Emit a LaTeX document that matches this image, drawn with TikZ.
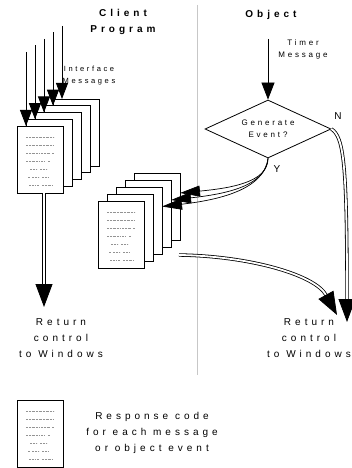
\documentclass[tikz,border=0pt]{standalone}
\usepackage{fontspec}
\setmainfont{Liberation Sans}
\newfontfamily\lsfont[LetterSpace=40]{Liberation Sans}
\newfontfamily\lsfontsm[LetterSpace=35]{Liberation Sans}
\usetikzlibrary{arrows.meta,shapes.geometric}

\tikzset{
  x=1pt, y=-1pt,
  dots/.style={gray!85, line width=0.5pt, dash pattern=on 0.7pt off 0.7pt},
  sheet/.style={draw, fill=white, line width=0.9pt, minimum width=46pt,
    minimum height=67pt, inner sep=0pt, outer sep=0pt},
  decision/.style={diamond, draw, line width=0.8pt, minimum width=126pt,
    minimum height=58pt, inner sep=0pt, shape aspect=2.2, align=center,
    font=\lsfontsm\fontsize{8}{12}\selectfont},
  titletext/.style={font=\lsfont\bfseries\fontsize{10}{16}\selectfont, align=center, inner sep=0pt},
  bigtext/.style={font=\lsfont\fontsize{10}{16}\selectfont, align=center, inner sep=0pt},
  smalltext/.style={font=\lsfontsm\fontsize{8}{12}\selectfont, align=center, inner sep=0pt},
  tinytext/.style={font=\lsfontsm\fontsize{7.5}{12}\selectfont, align=center, inner sep=0pt},
  branchtext/.style={font=\fontsize{10}{12}\selectfont, inner sep=0pt},
  inarrow/.style={line width=0.8pt, -{Triangle[length=16pt,width=12pt]}},
  timerarrow/.style={line width=0.8pt, -{Triangle[length=17pt,width=13pt]}},
  yarrow/.style={line width=0.7pt, -{Triangle[length=20pt,width=11pt]}},
  dblarrow/.style={draw, double, line width=0.8pt, double distance=1.8pt,
    -{Triangle[length=23pt,width=17pt]}},
  sepline/.style={draw=black!22, line width=1pt},
}

% dotted "code" lines on the face of a sheet node
\newcommand\sheetlines[1]{%
  \begin{scope}[shift={(#1.north west)}, dots]
    \draw (9,11) -- (37,11);
    \draw (9,19) -- (36,19);
    \draw (9,27) -- (22,27) (24,27) -- (33,27) (35,27) -- (37,27);
    \draw (9,35) -- (22,35) (24,35) -- (28,35) (31,35) -- (33,35);
    \draw (13,43) -- (20,43) (23,43) -- (30,43);
    \draw (11,51) -- (13,51) (15,51) -- (22,51) (25,51) -- (31,51);
    \draw (12,59) -- (18,59) (20,59) -- (22,59) (25,59) -- (36,59);
  \end{scope}}

\begin{document}
\begin{tikzpicture}
  \path[use as bounding box, fill=white] (0,0) rectangle (352,468);

  % divider between the two columns
  \coordinate (sepTop) at (197,5);
  \coordinate (sepBot) at (197,375);
  \draw[sepline] (sepTop) -- (sepBot);

  % column headings
  \node[titletext] (client) at (123,22) {Client\\Program};
  \node[titletext] (object) at (271,15) {Object};

  % incoming interface messages and the client's stack of response code
  \foreach \k in {0,...,4}
    \node[sheet] (c\k) at ({76-9*\k},{132.5+6.75*\k}) {};
  \sheetlines{c4}
  \foreach \k/\t in {0/26,1/32.5,2/39,3/45.5,4/52} {
    \coordinate (in\k) at ({62-9*\k},\t);
    \draw[inarrow] (in\k) -- (in\k |- c\k.north);
  }
  \node[tinytext] (iface) at (89,76) {Interface\\Messages};

  % timer message into the decision
  \node[decision] (d) at (268,129) {Generate\\Event?};
  \coordinate (tstart) at (268,39);
  \draw[timerarrow] (tstart) -- (d.north);
  \node[smalltext] (timer) at (303,49) {Timer\\Message};
  \node[branchtext] (nlbl) at (338,116) {N};
  \node[branchtext] (ylbl) at (277,169) {Y};

  % the object's stack of response code
  \foreach \k in {0,...,4}
    \node[sheet] (m\k) at ({157-9*\k},{206.5+7*\k}) {};
  \sheetlines{m4}

  % Y branch: events delivered to the client's handlers
  \draw[yarrow] (d.south) .. controls (268,182) and (232,188) .. ([yshift=13.5pt]m0.east);
  \draw[yarrow] (d.south) .. controls (266,186) and (226,194) .. ([yshift=13.5pt]m1.east);
  \draw[yarrow] (d.south) .. controls (264,190) and (218,200) .. ([yshift=14pt]m2.east);

  % returns to Windows
  \coordinate (endL) at (44,307);
  \draw[dblarrow] (c4.south -| endL) -- (endL);
  \node[bigtext] (retL) at (61,338) {Return\\control\\to Windows};

  \coordinate (respOut) at (179,255);
  \coordinate (endR) at (337,315);
  \draw[dblarrow] (respOut) .. controls (250,256) and (315,275) .. (endR);
  \coordinate (endN) at (347,322);
  \draw[dblarrow] (d.east) .. controls (344,137) and (347,165) .. (endN);
  \node[bigtext] (retR) at (309,338) {Return\\control\\to Windows};

  % key
  \node[sheet] (key) at (40,434) {};
  \sheetlines{key}
  \node[bigtext] (keytext) at (152,433) {Response code\\for each message\\or object event};
\end{tikzpicture}
\end{document}
